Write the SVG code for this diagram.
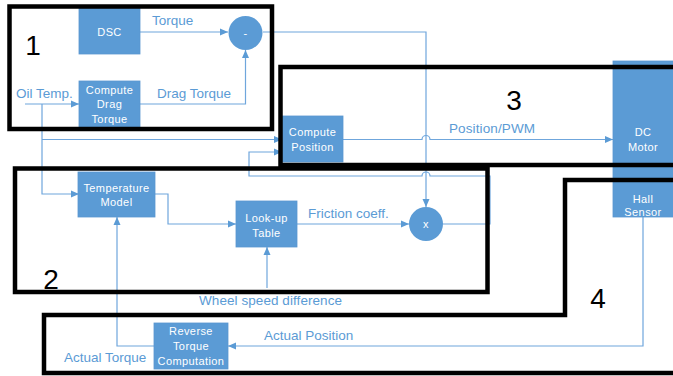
<svg xmlns="http://www.w3.org/2000/svg" width="673" height="376" viewBox="0 0 673 376">
<defs>
<marker id="ah" markerUnits="userSpaceOnUse" markerWidth="8" markerHeight="8" refX="8" refY="4" orient="auto">
<path d="M0,0.5 L8,4 L0,7.5 z" fill="#5B9BD5"/>
</marker>
<style>
.box{fill:#5B9BD5;stroke:#5a96cf;stroke-width:0.8}
.bt{font-family:"Liberation Sans",Arial,sans-serif;font-size:11px;fill:#ffffff;text-anchor:middle;letter-spacing:0.4px}
.lbl{font-family:"Liberation Sans",Arial,sans-serif;font-size:13.5px;fill:#5B9BD5}
.num{font-family:"Liberation Sans",Arial,sans-serif;font-size:28px;fill:#000000;text-anchor:middle}
.ln{fill:none;stroke:#6FA6DC;stroke-width:1.2}
.arr{marker-end:url(#ah)}
.frame{fill:none;stroke:#000000;stroke-width:4.5}
</style>
</defs>
<rect width="673" height="376" fill="#ffffff"/>

<g id="connectors">
<path class="ln arr" d="M140,32 H228"/>
<path class="ln arr" d="M140,104 H245.5 V50"/>
<path class="ln arr" d="M25,104 H79"/>
<path class="ln arr" d="M42,104 V194 H79"/>
<path class="ln arr" d="M42,139.5 H282"/>
<path class="ln arr" d="M263,32 H426 V207"/>
<path class="ln arr" d="M343,139.5 H422 A4,4 0 0 1 430,139.5 H613"/>
<path class="ln arr" d="M443,224 H490 V176 H430 A4,4 0 0 0 422,176 H249 V152 H282"/>
<path class="ln arr" d="M155,194 H168 V224 H236"/>
<path class="ln arr" d="M297,224 H409"/>
<path class="ln arr" d="M267,288 V247"/>
<path class="ln arr" d="M643,217 V346 H228"/>
<path class="ln arr" d="M154,346 H117 V217"/>
</g>

<g id="dsc"><rect class="box" x="79" y="8" width="61" height="46"/><text class="bt" x="109.5" y="35.5">DSC</text></g>
<g id="minus"><circle cx="245.5" cy="33" r="17" fill="#5B9BD5"/><text class="bt" x="245.5" y="36.5">-</text></g>
<g id="computeDrag"><rect class="box" x="79" y="81" width="61" height="47"/><text class="bt" x="109.5" y="94">Compute</text><text class="bt" x="109.5" y="108">Drag</text><text class="bt" x="109.5" y="123">Torque</text></g>
<g id="computePosition"><rect class="box" x="282" y="116" width="61" height="46"/><text class="bt" x="312.5" y="136">Compute</text><text class="bt" x="312.5" y="150.5">Position</text></g>
<g id="dcMotor"><rect class="box" x="613" y="61" width="62" height="156"/><text class="bt" x="643" y="136">DC</text><text class="bt" x="643" y="151">Motor</text><text class="bt" x="643" y="203">Hall</text><text class="bt" x="643" y="215.5">Sensor</text></g>
<g id="tempModel"><rect class="box" x="78" y="172" width="77" height="45"/><text class="bt" x="116.5" y="191.5">Temperature</text><text class="bt" x="116.5" y="206">Model</text></g>
<g id="lookup"><rect class="box" x="236" y="201" width="61" height="46"/><text class="bt" x="266.5" y="221.5">Look-up</text><text class="bt" x="266.5" y="236.5">Table</text></g>
<g id="mult"><circle cx="426" cy="224" r="17" fill="#5B9BD5"/><text class="bt" x="426" y="228">x</text></g>
<g id="reverse"><rect class="box" x="154" y="323" width="74" height="46"/><text class="bt" x="191" y="335">Reverse</text><text class="bt" x="191" y="350">Torque</text><text class="bt" x="191" y="365">Computation</text></g>

<g id="labels">
<text class="lbl" x="152" y="25">Torque</text>
<text class="lbl" x="16" y="98">Oil Temp.</text>
<text class="lbl" x="157" y="98">Drag Torque</text>
<text class="lbl" x="449" y="133" textLength="86">Position/PWM</text>
<text class="lbl" x="308" y="218">Friction coeff.</text>
<text class="lbl" x="199" y="305" textLength="143">Wheel speed difference</text>
<text class="lbl" x="264" y="340">Actual Position</text>
<text class="lbl" x="64" y="362">Actual Torque</text>
</g>

<g id="frames">
<rect class="frame" x="9.5" y="6.5" width="262.5" height="122.5"/>
<rect class="frame" x="280.5" y="67" width="420" height="98"/>
<rect class="frame" x="15" y="168.5" width="472.5" height="123.5"/>
<path class="frame" d="M44,373 V315 H565 V180 H690 V373 Z"/>
<text class="num" x="33" y="55">1</text>
<text class="num" x="51" y="289">2</text>
<text class="num" x="514" y="110">3</text>
<text class="num" x="598" y="308">4</text>
</g>
</svg>
